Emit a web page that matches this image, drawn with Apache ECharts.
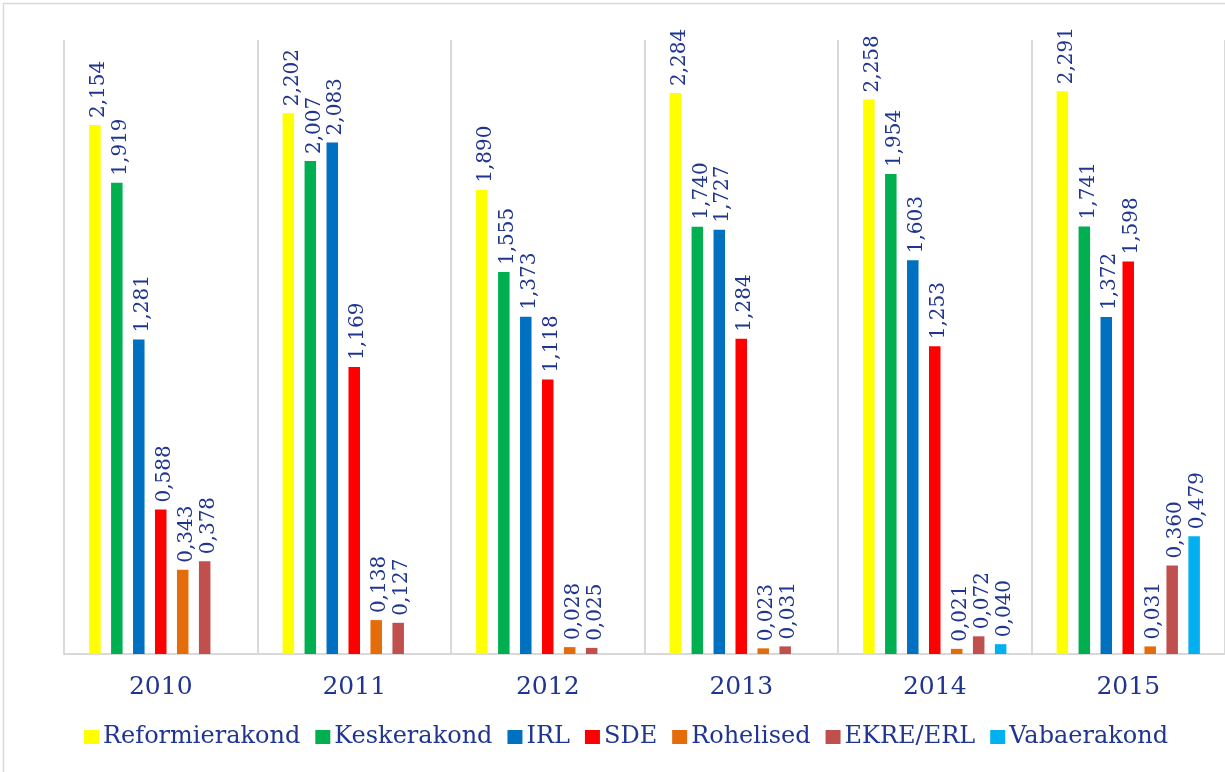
<!DOCTYPE html>
<html>
<head>
<meta charset="utf-8">
<script src="https://cdn.jsdelivr.net/npm/echarts@6/dist/echarts.min.js"></script>
<style>
html,body{margin:0;padding:0;background:#fff;}
#c{width:1225px;height:772px;}
</style>
</head>
<body>
<div id="c"></div>
<script>
const categories = ['2010', '2011', '2012', '2013', '2014', '2015'];
const seriesNames = ['Reformierakond', 'Keskerakond', 'IRL', 'SDE', 'Rohelised', 'EKRE/ERL', 'Vabaerakond'];
const reformierakond = [2.154, 2.202, 1.890, 2.284, 2.258, 2.291];
const keskerakond = [1.919, 2.007, 1.555, 1.740, 1.954, 1.741];
const irl = [1.281, 2.083, 1.373, 1.727, 1.603, 1.372];
const sde = [0.588, 1.169, 1.118, 1.284, 1.253, 1.598];
const rohelised = [0.343, 0.138, 0.028, 0.023, 0.021, 0.031];
const ekre = [0.378, 0.127, 0.025, 0.031, 0.072, 0.360];
const vabaerakond = [null, null, null, null, 0.040, 0.479];
const seriesData = [reformierakond, keskerakond, irl, sde, rohelised, ekre, vabaerakond];
const colors = ['#FFFF00', '#00B050', '#0070C0', '#FF0000', '#E46C0A', '#C0504D', '#00B0F0'];

const textColor = '#1F3590';
const fontFam = '"DejaVu Serif", "Liberation Serif", serif';

const chart = echarts.init(document.getElementById('c'));
chart.setOption({
  animation: false,
  color: colors,
  graphic: [{
    type: 'rect',
    shape: { x: 3.5, y: 3.5, width: 1400, height: 900 },
    style: { fill: 'none', stroke: '#d9d9d9', lineWidth: 1.5 },
    silent: true
  }],
  grid: { left: 64, right: -6, top: 40, bottom: 118 },
  legend: {
    left: 79,
    top: 720,
    itemWidth: 15,
    itemHeight: 14,
    itemGap: 15,
    icon: 'rect',
    textStyle: { color: textColor, fontFamily: fontFam, fontSize: 24, padding: [0, 0, 0, -1] },
    data: seriesNames
  },
  xAxis: {
    type: 'category',
    data: categories,
    axisLine: { lineStyle: { color: '#d9d9d9', width: 2 } },
    axisTick: { show: false },
    splitLine: { show: true, lineStyle: { color: '#d9d9d9', width: 2 } },
    axisLabel: { color: textColor, fontFamily: fontFam, fontSize: 25, margin: 21 }
  },
  yAxis: {
    type: 'value',
    min: 0,
    max: 2.5,
    show: false,
    splitLine: { show: false }
  },
  series: seriesNames.map((name, i) => ({
    name: name,
    type: 'bar',
    data: seriesData[i],
    barWidth: 11.5,
    barGap: '91%',
    itemStyle: { color: colors[i] },
    label: {
      show: true,
      position: 'top',
      rotate: 90,
      align: 'left',
      verticalAlign: 'middle',
      distance: 7,
      offset: [0, 4],
      color: textColor,
      fontFamily: fontFam,
      fontSize: 20,
      formatter: p => (p.value == null ? '' : p.value.toFixed(3).replace('.', ','))
    }
  }))
});
</script>
</body>
</html>
